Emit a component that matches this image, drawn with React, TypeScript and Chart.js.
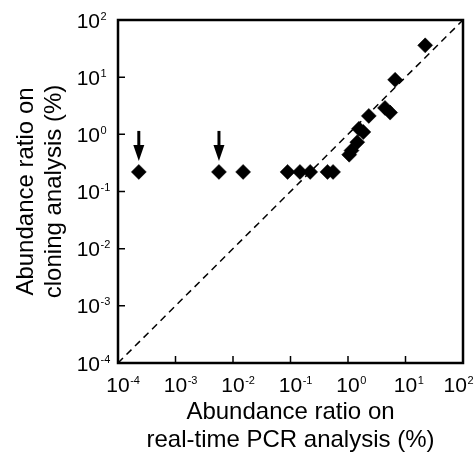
import { useEffect, useRef } from "react";
import { Chart, registerables } from "chart.js";

Chart.register(...registerables);

// Points (abundance ratio, %)
const realTimePCR = [
  2.3e-4, 5.7e-3, 0.015, 0.089, 0.146, 0.22, 0.44, 0.55,
  1.05, 1.15, 1.45, 1.55, 1.85, 2.3, 4.4, 5.4, 6.6, 22,
];
const cloning = [
  0.22, 0.22, 0.22, 0.22, 0.22, 0.22, 0.22, 0.22,
  0.44, 0.52, 0.73, 1.25, 1.1, 2.1, 2.9, 2.4, 9.0, 36,
];
// points marked with an arrow
const arrowX = [2.3e-4, 5.7e-3];
const arrowY = [0.22, 0.22];
// y = x reference line
const diagX = [1e-4, 1e2];
const diagY = [1e-4, 1e2];
// tick exponents (10^n)
const xTickExp = [-4, -3, -2, -1, 0, 1, 2];
const yTickExp = [-4, -3, -2, -1, 0, 1, 2];
const xTitle = ["Abundance ratio on", "real-time PCR analysis (%)"];
const yTitle = ["Abundance ratio on", "cloning analysis (%)"];

const FONT = '"Liberation Sans", Arial, Helvetica, sans-serif';

const decorPlugin = {
  id: "decor",
  afterDatasetsDraw(chart: any) {
    const { ctx, chartArea: a, scales, width } = chart;
    const xs = scales.x;
    const ys = scales.y;
    ctx.save();
    ctx.strokeStyle = "#000";
    ctx.fillStyle = "#000";
    // frame
    ctx.lineWidth = 2.5;
    ctx.strokeRect(a.left, a.top, a.right - a.left, a.bottom - a.top);
    // inward ticks
    ctx.lineWidth = 1.5;
    ctx.beginPath();
    for (const e of xTickExp) {
      const px = xs.getPixelForValue(Math.pow(10, e));
      ctx.moveTo(px, a.bottom);
      ctx.lineTo(px, a.bottom - 7);
    }
    for (const e of yTickExp) {
      const py = ys.getPixelForValue(Math.pow(10, e));
      ctx.moveTo(a.left, py);
      ctx.lineTo(a.left + 7, py);
    }
    ctx.stroke();
    // x tick labels
    ctx.textBaseline = "alphabetic";
    for (const e of xTickExp) {
      let px = xs.getPixelForValue(Math.pow(10, e));
      ctx.font = `21px ${FONT}`;
      const w = ctx.measureText("10").width;
      ctx.font = `11px ${FONT}`;
      const sw = ctx.measureText(String(e)).width;
      if (px + w / 2 + sw + 1 > width - 1) px = width - 1 - sw - 1 - w / 2;
      const base = a.bottom + 29;
      ctx.font = `21px ${FONT}`;
      ctx.textAlign = "center";
      ctx.fillText("10", px, base);
      ctx.font = `11px ${FONT}`;
      ctx.textAlign = "left";
      ctx.fillText(String(e), px + w / 2 + 0.5, base - 8);
    }
    // y tick labels
    for (const e of yTickExp) {
      const py = ys.getPixelForValue(Math.pow(10, e));
      ctx.font = `21px ${FONT}`;
      ctx.textAlign = "right";
      ctx.fillText("10", a.left - 18, py + 7.5);
      ctx.font = `11px ${FONT}`;
      ctx.textAlign = "left";
      ctx.fillText(String(e), a.left - 17.5, py - 0.5);
    }
    // arrows
    for (let i = 0; i < arrowX.length; i++) {
      const px = xs.getPixelForValue(arrowX[i]);
      const py = ys.getPixelForValue(arrowY[i]);
      ctx.lineWidth = 3;
      ctx.beginPath();
      ctx.moveTo(px, py - 41);
      ctx.lineTo(px, py - 24);
      ctx.stroke();
      ctx.beginPath();
      ctx.moveTo(px - 5.5, py - 27);
      ctx.lineTo(px + 5.5, py - 27);
      ctx.lineTo(px, py - 11);
      ctx.closePath();
      ctx.fill();
    }
    ctx.restore();
  },
};

export default function App() {
  const ref = useRef<HTMLCanvasElement | null>(null);
  useEffect(() => {
    if (!ref.current) return;
    const chart = new Chart(ref.current, {
      type: "scatter",
      data: {
        datasets: [
          {
            type: "line",
            data: diagX.map((v, i) => ({ x: v, y: diagY[i] })),
            borderColor: "#000",
            borderWidth: 1.5,
            borderDash: [7, 5],
            pointRadius: 0,
            fill: false,
          } as any,
          {
            data: realTimePCR.map((v, i) => ({ x: v, y: cloning[i] })),
            pointStyle: "rectRot",
            pointRadius: 7.5,
            borderWidth: 0.5,
            backgroundColor: "#000",
            borderColor: "#000",
          },
        ],
      },
      options: {
        responsive: false,
        animation: false,
        layout: { padding: { top: 20, right: 12, left: 0, bottom: 0 } },
        plugins: {
          legend: { display: false },
          tooltip: { enabled: false },
        },
        scales: {
          x: {
            type: "logarithmic",
            min: 1e-4,
            max: 1e2,
            ticks: { display: false },
            grid: { display: false },
            border: { display: false },
            title: {
              display: true,
              text: xTitle,
              color: "#000",
              font: { family: FONT, size: 24, lineHeight: 1.17 },
              padding: { top: 0, bottom: 7 },
            },
            afterFit: (s: any) => {
              s.height = 98;
            },
          },
          y: {
            type: "logarithmic",
            min: 1e-4,
            max: 1e2,
            ticks: { display: false },
            grid: { display: false },
            border: { display: false },
            title: {
              display: true,
              text: yTitle,
              color: "#000",
              font: { family: FONT, size: 24, lineHeight: 1.17 },
              padding: { top: 12, bottom: 0 },
            },
            afterFit: (s: any) => {
              s.width = 118;
            },
          },
        },
      },
      plugins: [decorPlugin],
    });
    return () => chart.destroy();
  }, []);
  return (
    <div style={{ position: "fixed", left: 0, top: 0, width: 475, height: 461, background: "#fff" }}>
      <canvas ref={ref} width={475} height={461} />
    </div>
  );
}
